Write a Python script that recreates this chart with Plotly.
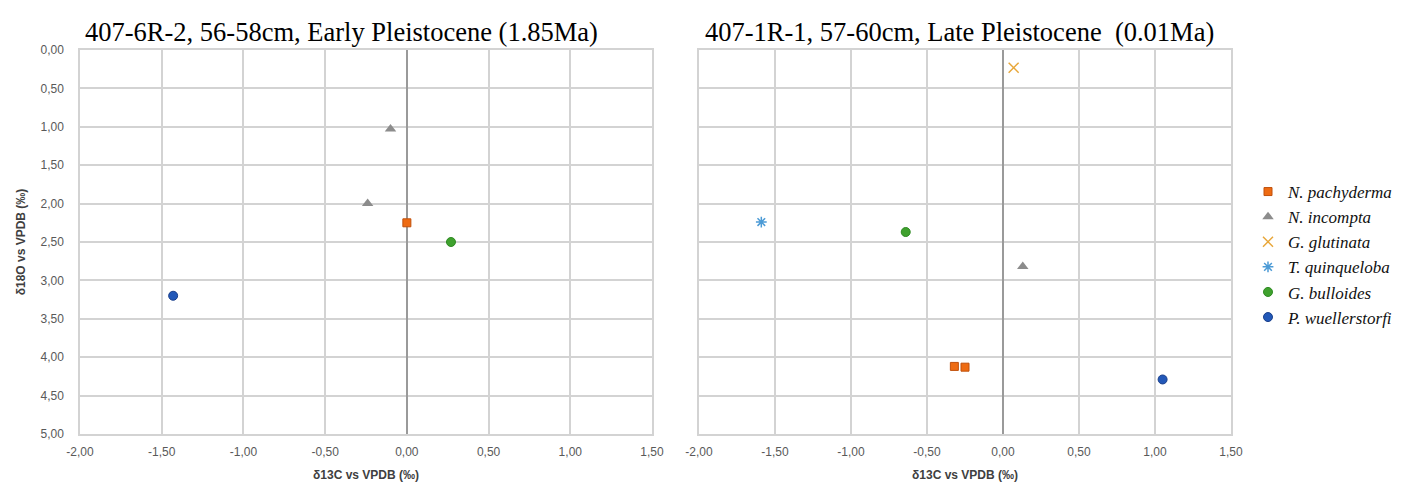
import plotly.graph_objects as go
from plotly.subplots import make_subplots

# ---- data ----
species = ["N. pachyderma", "N. incompta", "G. glutinata", "T. quinqueloba", "G. bulloides", "P. wuellerstorfi"]

# Left panel: 407-6R-2 (Early Pleistocene)
early_d13C = {
    "N. pachyderma": [0.00],
    "N. incompta": [-0.10, -0.24],
    "G. glutinata": [],
    "T. quinqueloba": [],
    "G. bulloides": [0.27],
    "P. wuellerstorfi": [-1.43],
}
early_d18O = {
    "N. pachyderma": [2.25],
    "N. incompta": [1.03, 2.00],
    "G. glutinata": [],
    "T. quinqueloba": [],
    "G. bulloides": [2.50],
    "P. wuellerstorfi": [3.20],
}

# Right panel: 407-1R-1 (Late Pleistocene)
late_d13C = {
    "N. pachyderma": [-0.32, -0.25],
    "N. incompta": [0.13],
    "G. glutinata": [0.07],
    "T. quinqueloba": [-1.59],
    "G. bulloides": [-0.64],
    "P. wuellerstorfi": [1.05],
}
late_d18O = {
    "N. pachyderma": [4.12, 4.13],
    "N. incompta": [2.82],
    "G. glutinata": [0.23],
    "T. quinqueloba": [2.24],
    "G. bulloides": [2.37],
    "P. wuellerstorfi": [4.29],
}

x_tick_vals = [-2.0, -1.5, -1.0, -0.5, 0.0, 0.5, 1.0, 1.5]
x_tick_labels = ["-2,00", "-1,50", "-1,00", "-0,50", "0,00", "0,50", "1,00", "1,50"]
y_tick_vals = [0.0, 0.5, 1.0, 1.5, 2.0, 2.5, 3.0, 3.5, 4.0, 4.5, 5.0]
y_tick_labels = ["0,00", "0,50", "1,00", "1,50", "2,00", "2,50", "3,00", "3,50", "4,00", "4,50", "5,00"]

titles = ["407-6R-2, 56-58cm, Early Pleistocene (1.85Ma)",
          "407-1R-1, 57-60cm, Late Pleistocene  (0.01Ma)"]

# ---- styles ----
styles = {
    "N. pachyderma": dict(symbol="square", color="#EE6B12", line=dict(color="#C0500C", width=1), size=8),
    "N. incompta": dict(symbol="triangle-up", color="#8C8C8C", line=dict(color="#8C8C8C", width=0), size=10),
    "G. glutinata": dict(symbol="x-thin-open", color="#E8A73A", line=dict(color="#E8A73A", width=1.5), size=10),
    "T. quinqueloba": dict(symbol="asterisk-open", color="#4C9BD6", line=dict(color="#4C9BD6", width=1.5), size=9),
    "G. bulloides": dict(symbol="circle", color="#3FA12E", line=dict(color="#2E8A22", width=1), size=9),
    "P. wuellerstorfi": dict(symbol="circle", color="#2258B8", line=dict(color="#1A3F8A", width=1), size=9),
}

SANS = "Liberation Sans Narrow, Liberation Sans, Arial"
SERIF = "Liberation Serif, Times New Roman"

L, R, T, B = 72, 183, 42, 59
W, H = 1406, 485
pw = W - L - R
ph = H - T - B
left_end = (644 - L) / pw
right_start = (691 - L) / pw

fig = make_subplots(rows=1, cols=2)
fig.update_layout(
    xaxis=dict(domain=[0, left_end]),
    xaxis2=dict(domain=[right_start, 1]),
)

for col, (dx, dy) in enumerate([(early_d13C, early_d18O), (late_d13C, late_d18O)], start=1):
    for sp in species:
        st = styles[sp]
        fig.add_trace(go.Scatter(
            x=dx[sp], y=dy[sp], mode="markers", name="<i>" + sp + "</i>",
            legendgroup=sp, showlegend=(col == 2),
            marker=dict(symbol=st["symbol"], color=st["color"], size=st["size"], line=st["line"]),
        ), row=1, col=col)

axis_common = dict(
    automargin=False,
    showgrid=True, gridcolor="#D3D3D3", gridwidth=1.5,
    showline=True, linecolor="#D3D3D3", linewidth=1.5, mirror=True,
    ticks="", tickfont=dict(family=SANS, size=12, color="#595959"),
)
for c in [1, 2]:
    fig.update_xaxes(range=[-2, 1.5], tickvals=x_tick_vals, ticktext=x_tick_labels,
                     zeroline=True, zerolinecolor="#9A9A9A", zerolinewidth=1.5,
                     ticklabelstandoff=6,
                     title=dict(text="<b>δ13C vs VPDB (‰)</b>", font=dict(family=SANS, size=12, color="#404040"), standoff=12),
                     row=1, col=c, **axis_common)
    fig.update_yaxes(range=[5, 0], tickvals=y_tick_vals, ticktext=y_tick_labels,
                     zeroline=False, showticklabels=(c == 1), ticklabelstandoff=12,
                     row=1, col=c, **axis_common)
fig.update_yaxes(title=dict(text="<b>δ18O vs VPDB (‰)</b>", font=dict(family=SANS, size=12, color="#404040"), standoff=12), row=1, col=1)

# titles
for i, (t, x0) in enumerate(zip(titles, [75, 695])):
    fig.add_annotation(text=t, xref="paper", yref="paper",
                       x=(x0 - L) / pw, y=1 + (T - 24) / ph, xanchor="left", yanchor="middle",
                       showarrow=False, font=dict(family=SERIF, size=26.5, color="#000000"))

fig.update_layout(
    width=W, height=H,
    margin=dict(l=L, r=R, t=T, b=B),
    paper_bgcolor="white", plot_bgcolor="white",
    showlegend=True,
    legend=dict(x=(1240 - L) / pw, y=1 - (166 - T) / ph, xanchor="left", yanchor="top",
                font=dict(family=SERIF, size=17, color="#111111"),
                itemsizing="trace", tracegroupgap=0, bgcolor="rgba(0,0,0,0)"),
)

fig.write_html("out.html")
